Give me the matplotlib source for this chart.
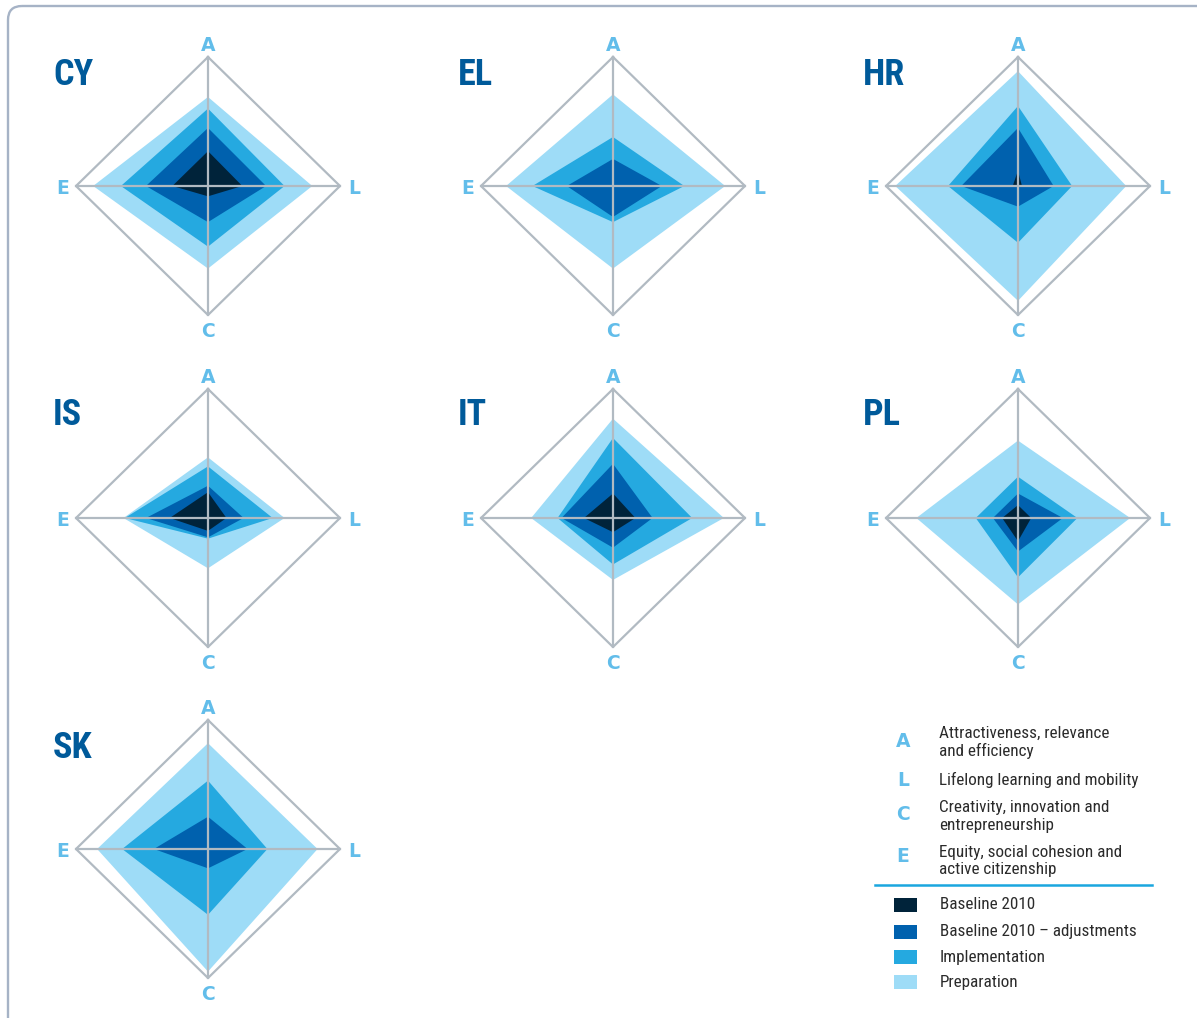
import matplotlib.pyplot as plt
from matplotlib import font_manager as fm
from matplotlib.patches import Polygon, FancyBboxPatch, Rectangle

# scores per country, order of axes: A, L, C, E (share of full scale)
countries = ['CY', 'EL', 'HR', 'IS', 'IT', 'PL', 'SK']
preparation = [
    [0.69, 0.79, 0.64, 0.87],
    [0.71, 0.85, 0.64, 0.81],
    [0.89, 0.82, 0.89, 0.93],
    [0.47, 0.58, 0.39, 0.64],
    [0.77, 0.84, 0.48, 0.62],
    [0.60, 0.85, 0.67, 0.77],
    [0.82, 0.83, 0.95, 0.84],
]
implementation = [
    [0.60, 0.58, 0.47, 0.66],
    [0.38, 0.54, 0.28, 0.61],
    [0.62, 0.41, 0.44, 0.53],
    [0.40, 0.49, 0.16, 0.63],
    [0.62, 0.60, 0.36, 0.42],
    [0.32, 0.45, 0.46, 0.32],
    [0.53, 0.45, 0.51, 0.65],
]
adjustments = [
    [0.45, 0.44, 0.28, 0.47],
    [0.21, 0.37, 0.24, 0.35],
    [0.45, 0.27, 0.16, 0.43],
    [0.25, 0.27, 0.15, 0.47],
    [0.42, 0.30, 0.23, 0.39],
    [0.19, 0.34, 0.26, 0.19],
    [0.25, 0.30, 0.15, 0.41],
]
baseline = [
    [0.27, 0.26, 0.08, 0.27],
    [0.00, 0.00, 0.00, 0.00],
    [0.12, 0.03, 0.00, 0.04],
    [0.20, 0.14, 0.10, 0.29],
    [0.19, 0.17, 0.11, 0.22],
    [0.10, 0.10, 0.18, 0.12],
    [0.00, 0.00, 0.00, 0.00],
]

axis_letters = ['A', 'L', 'C', 'E']
axis_names = [
    ['Attractiveness, relevance', 'and efficiency'],
    ['Lifelong learning and mobility'],
    ['Creativity, innovation and', 'entrepreneurship'],
    ['Equity, social cohesion and', 'active citizenship'],
]
layer_names = ['Baseline 2010', 'Baseline 2010 \u2013 adjustments', 'Implementation', 'Preparation']
layer_colors = ['#00233a', '#0061ae', '#25a9e0', '#9edcf7']

TITLE_C = '#005a9a'
LETTER_C = '#62bdea'
GRID_C = '#b1bac2'

# pick a condensed face if one is installed, otherwise Roboto
installed = {f.name for f in fm.fontManager.ttflist}
narrow_opts = ['Liberation Sans Narrow', 'Roboto Condensed', 'Open Sans Condensed',
               'DejaVu Sans Condensed', 'Noto Sans Condensed']
found = [n for n in narrow_opts if n in installed]
if found:
    narrow = [found[0], 'DejaVu Sans']
    txt_size, title_size = 12.3, 26
else:
    narrow = ['Roboto', 'DejaVu Sans']
    txt_size, title_size = 10.5, 22
text_font = fm.FontProperties(family=narrow, size=txt_size)
if not found and any(f.name == 'DejaVu Sans' and f.stretch == 'condensed' for f in fm.fontManager.ttflist):
    narrow = ['DejaVu Sans']
    text_font = fm.FontProperties(family=narrow, stretch='condensed', size=txt_size)

W, H = 1197, 1018
fig = plt.figure(figsize=(W / 100, H / 100), dpi=100)

bg = fig.add_axes([0, 0, 1, 1])
bg.set_xlim(0, W)
bg.set_ylim(H, 0)
bg.axis('off')
bg.add_patch(FancyBboxPatch((8, 6), 1260, 1080, boxstyle='round,pad=0,rounding_size=14',
                            fill=False, ec='#a6b3c6', lw=1.7))

# grid layout of the small diamonds
col_x = [208, 613, 1018]
row_y = [186, 518, 849]
title_dy = [101, 101, 101, 93, 93, 93, 91]
RX, RY = 132, 129

for i, name in enumerate(countries):
    cx = col_x[i % 3]
    cy = row_y[i // 3]
    ax = fig.add_axes([(cx - RX) / W, 1 - (cy + RY) / H, 2 * RX / W, 2 * RY / H])
    ax.set_xlim(-1, 1)
    ax.set_ylim(-1, 1)
    ax.axis('off')

    for vals, col in zip([preparation[i], implementation[i], adjustments[i], baseline[i]],
                         layer_colors[::-1]):
        a, l, c, e = vals
        ax.add_patch(Polygon([(0, a), (l, 0), (0, -c), (-e, 0)], closed=True,
                             fc=col, ec='none', clip_on=False))

    ax.plot([0, 1, 0, -1, 0], [1, 0, -1, 0, 1], color=GRID_C, lw=1.6,
            solid_joinstyle='round', clip_on=False)
    ax.plot([-1, 1], [0, 0], color=GRID_C, lw=1.6, clip_on=False)
    ax.plot([0, 0], [-1, 1], color=GRID_C, lw=1.6, clip_on=False)

    lk = dict(color=LETTER_C, fontsize=13.5, fontweight='heavy', family='DejaVu Sans',
              ha='center', va='baseline', clip_on=False)
    ax.text(0, 1.049, 'A', **lk)
    ax.text(1.11, -0.06, 'L', **lk)
    ax.text(0, -1.17, 'C', **lk)
    ax.text(-1.10, -0.06, 'E', **lk)

    tf = text_font.copy()
    tf.set_size(title_size)
    tf.set_weight('bold')
    ax.text(-155 / RX, title_dy[i] / RY, name, color=TITLE_C, fontproperties=tf,
            ha='left', va='baseline', clip_on=False)

# legend: axis letters and names
letter_y = [741.7, 781, 814, 856.7]
name_y = [[738.3, 756], [785], [812.3, 830], [856.7, 874.3]]
for letter, ly, lines, ys in zip(axis_letters, letter_y, axis_names, name_y):
    bg.text(903, ly, letter, color=LETTER_C, fontsize=13.5, fontweight='heavy',
            family='DejaVu Sans', ha='center', va='center')
    for txt, y in zip(lines, ys):
        bg.text(939, y, txt, color='#2b2b2b', fontproperties=text_font,
                ha='left', va='baseline')

bg.plot([875, 1152], [885, 885], color='#1aa6df', lw=1.8)

# legend: layer swatches
swatch_y = [904.7, 931.5, 957.2, 982.3]
for lab, col, y in zip(layer_names, layer_colors, swatch_y):
    bg.add_patch(Rectangle((894, y - 7), 23, 14, fc=col, ec='none'))
    bg.text(940, y, lab, color='#2b2b2b', fontproperties=text_font,
            ha='left', va='center')

fig.savefig('out.png', dpi=100)
